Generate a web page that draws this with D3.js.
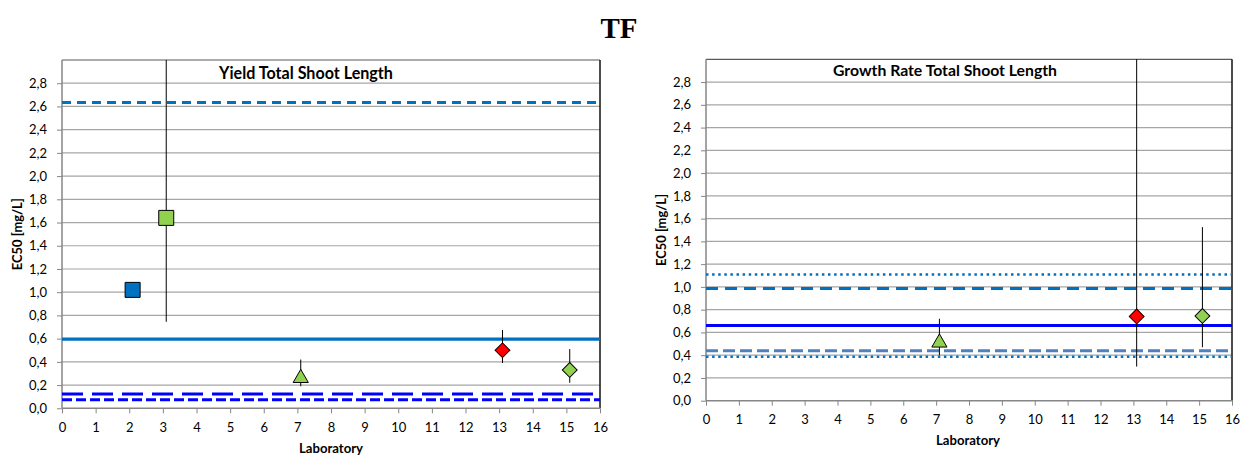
<!DOCTYPE html>
<html><head><meta charset="utf-8">
<script src="https://cdn.jsdelivr.net/npm/d3@7"></script>
<style>
body{margin:0;background:#fff;}
svg text{font-family:Lato,"Open Sans",sans-serif;fill:#000;}
</style></head>
<body><svg id="c" width="1246" height="458"></svg>
<script>
// ---------- data ----------
const xTicks = d3.range(0, 17, 1);
const yTicks = [0,0.2,0.4,0.6,0.8,1.0,1.2,1.4,1.6,1.8,2.0,2.2,2.4,2.6,2.8];

// Yield Total Shoot Length
const yieldLab   = [2.1, 3.1, 7.1, 13.1, 15.1];
const yieldEC50  = [1.02, 1.64, 0.26, 0.50, 0.33];
const yieldLow   = [null, 0.745, 0.19, 0.39, 0.22];
const yieldHigh  = [null, 3.5, 0.42, 0.675, 0.51];
const yieldShape = ["square","square","triangle","diamond","diamond"];
const yieldFill  = ["#0070C0","#92D050","#92D050","#FF0000","#92D050"];
const yieldRefVals = [2.635, 0.595, 0.123, 0.074];
const yieldRefStyle = [
  {c:"#0070C0", w:3, d:"9,6"},
  {c:"#0070C0", w:3.2, d:null},
  {c:"#0000FF", w:3, d:"21,9"},
  {c:"#0000FF", w:3, d:"10,4"}
];

// Growth Rate Total Shoot Length
const rateLab   = [7.1, 13.1, 15.1];
const rateEC50  = [0.51, 0.74, 0.745];
const rateLow   = [0.40, 0.30, 0.47];
const rateHigh  = [0.72, 3.5, 1.525];
const rateShape = ["triangle","diamond","diamond"];
const rateFill  = ["#92D050","#FF0000","#92D050"];
const rateRefVals = [1.11, 0.985, 0.66, 0.44, 0.386];
const rateRefStyle = [
  {c:"#0070C0", w:2.5, d:"2.5,3.6"},
  {c:"#0070C0", w:3, d:"12,7"},
  {c:"#0000FF", w:3, d:null},
  {c:"#4F81BD", w:3, d:"12,5"},
  {c:"#0070C0", w:2.5, d:"2.5,3.6"}
];

const svg = d3.select("#c");
svg.append("text").attr("x",619).attr("y",38).attr("text-anchor","middle")
  .style("font-family","'Liberation Serif','Times New Roman',serif")
  .style("font-weight","bold").style("font-size","29px").text("TF");

function fit(sel, width){
  const base = 12;
  sel.style("font-size", base+"px");
  const w = sel.node().getComputedTextLength();
  sel.style("font-size", (base*width/w).toFixed(2)+"px");
  return sel;
}

function symbolPath(shape){
  if(shape==="square") return d3.symbol(d3.symbolSquare, 225)();
  if(shape==="triangle") return d3.symbol(d3.symbolTriangle, 100)();
  return d3.symbol(d3.symbolSquare, 110)();
}

function chart(o){
  const g = svg.append("g");
  const x = d3.scaleLinear().domain([0,16]).range([o.l, o.r]);
  const y = d3.scaleLinear().domain([0,3]).range([o.b, o.t]);
  const clipId = "clip"+o.id;
  svg.append("clipPath").attr("id",clipId).append("rect")
    .attr("x",o.l).attr("y",o.t).attr("width",o.r-o.l).attr("height",o.b-o.t);

  // gridlines
  g.append("g").selectAll("line").data(yTicks.filter(v=>v>0)).join("line")
    .attr("x1",o.l).attr("x2",o.r).attr("y1",d=>y(d)).attr("y2",d=>y(d))
    .attr("stroke","#A6A6A6").attr("stroke-width",1.2);
  // top & right border
  g.append("line").attr("x1",o.l).attr("x2",o.r).attr("y1",o.t).attr("y2",o.t)
    .attr("stroke","#595959").attr("stroke-width",1.2);
  g.append("line").attr("x1",o.r).attr("x2",o.r).attr("y1",o.t).attr("y2",o.b)
    .attr("stroke","#111").attr("stroke-width",1.5);

  // axes
  const ya = d3.axisLeft(y).tickValues(yTicks).tickSize(5).tickPadding(10)
    .tickFormat(d=>d3.format(".1f")(d).replace(".",","));
  const yg = g.append("g").attr("transform",`translate(${o.l},0)`).call(ya);
  yg.select(".domain").attr("stroke","#868686").attr("stroke-width",1.5).attr("d",`M-0,${o.t}V${o.b}`);
  yg.selectAll(".tick line").attr("stroke","#868686");
  yg.selectAll("text").style("font-size","13px").attr("fill","#000");

  const xa = d3.axisBottom(x).tickValues(xTicks).tickSize(5).tickPadding(o.xpad);
  const xg = g.append("g").attr("transform",`translate(0,${o.b})`).call(xa);
  xg.select(".domain").attr("stroke","#868686").attr("stroke-width",1.5).attr("d",`M${o.l},0H${o.r}`);
  xg.selectAll(".tick line").attr("stroke","#868686");
  xg.selectAll("text").style("font-size","13px").attr("fill","#000");

  // reference lines
  const inner = g.append("g").attr("clip-path",`url(#${clipId})`);
  inner.selectAll("line.ref").data(o.refVals).join("line").attr("class","ref")
    .attr("x1",o.l).attr("x2",o.r).attr("y1",d=>y(d)).attr("y2",d=>y(d))
    .attr("stroke",(d,i)=>o.refStyle[i].c).attr("stroke-width",(d,i)=>o.refStyle[i].w)
    .attr("stroke-dasharray",(d,i)=>o.refStyle[i].d);

  // error bars
  const idx = d3.range(o.lab.length).filter(i=>o.low[i]!=null);
  inner.selectAll("line.err").data(idx).join("line").attr("class","err")
    .attr("x1",i=>x(o.lab[i])).attr("x2",i=>x(o.lab[i]))
    .attr("y1",i=>y(o.low[i])).attr("y2",i=>y(o.high[i]))
    .attr("stroke","#000").attr("stroke-width",1);

  // markers
  g.selectAll("path.pt").data(d3.range(o.lab.length)).join("path").attr("class","pt")
    .attr("d",i=>symbolPath(o.shape[i]))
    .attr("transform",i=>`translate(${x(o.lab[i])},${y(o.val[i])})`+(o.shape[i]==="diamond"?" rotate(45)":""))
    .attr("fill",i=>o.fill[i]).attr("stroke","#000").attr("stroke-width",1);

  // titles
  fit(g.append("text").attr("x",o.titleX).attr("y",o.titleY).attr("text-anchor","middle")
    .style("font-weight","bold").text(o.title), o.titleW);
  fit(g.append("text").attr("transform",`translate(${o.ylabX},${(o.t+o.b)/2}) rotate(-90)`)
    .attr("text-anchor","middle").style("font-weight","bold").text("EC50 [mg/L]"), 72);
  fit(g.append("text").attr("x",o.xlabX).attr("y",o.xlabY).attr("text-anchor","middle")
    .style("font-weight","bold").text("Laboratory"), 64);
}

chart({id:1,l:62,r:600,t:60,b:408.3,xpad:9,lab:yieldLab,val:yieldEC50,low:yieldLow,high:yieldHigh,
  shape:yieldShape,fill:yieldFill,refVals:yieldRefVals,refStyle:yieldRefStyle,
  title:"Yield Total Shoot Length",titleX:306,titleY:79,titleW:174,ylabX:22,xlabX:331,xlabY:453});
chart({id:2,l:706,r:1232,t:59.3,b:400.7,xpad:9,lab:rateLab,val:rateEC50,low:rateLow,high:rateHigh,
  shape:rateShape,fill:rateFill,refVals:rateRefVals,refStyle:rateRefStyle,
  title:"Growth Rate Total Shoot Length",titleX:945,titleY:76,titleW:224,ylabX:666,xlabX:968,xlabY:445});
</script></body></html>
